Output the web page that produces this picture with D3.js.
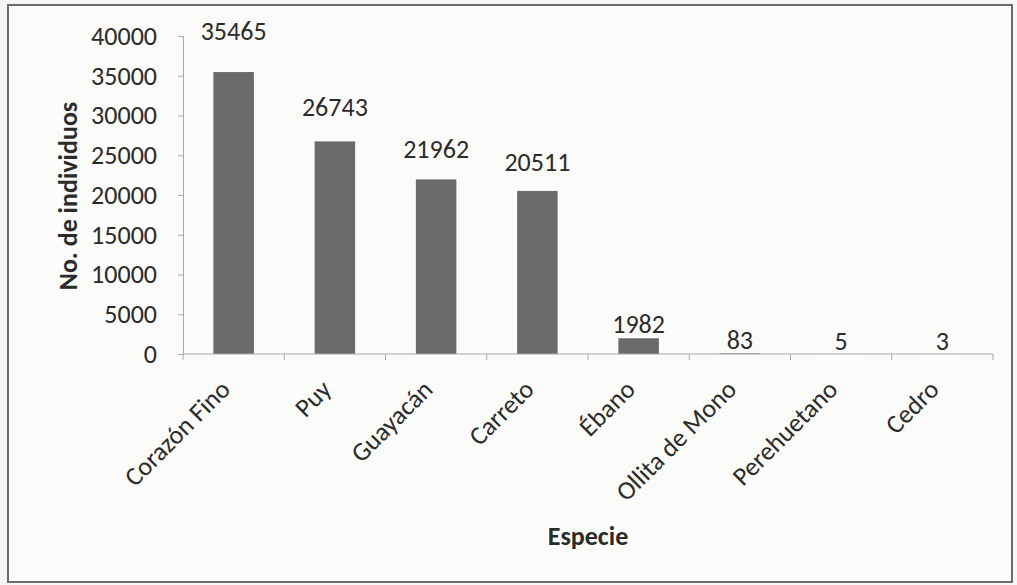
<!DOCTYPE html>
<html>
<head>
<meta charset="utf-8">
<script src="https://d3js.org/d3.v7.min.js"></script>
<style>
  body { margin: 0; background: #f6f6f4; }
  text { font-family: Carlito, Lato, "Open Sans", sans-serif; fill: #2b2b2b; }
</style>
</head>
<body>
<script>
// species counts
var especies = ["Corazón Fino", "Puy", "Guayacán", "Carreto", "Ébano", "Ollita de Mono", "Perehuetano", "Cedro"];
var individuos = [35465, 26743, 21962, 20511, 1982, 83, 5, 3];
var yTicks = [0, 5000, 10000, 15000, 20000, 25000, 30000, 35000, 40000];

var width = 1017, height = 585;
var plotLeft = 183, plotRight = 993, plotTop = 36, plotBottom = 354;
var fontSize = "26px";

var svg = d3.select("body").append("svg")
    .attr("width", width)
    .attr("height", height);

// chart frame
svg.append("rect")
    .attr("x", 8).attr("y", 5)
    .attr("width", 1004).attr("height", 577)
    .attr("fill", "#fbfbfa")
    .attr("stroke", "#6c6c6c")
    .attr("stroke-width", 2);

var x = d3.scaleBand().domain(especies).range([plotLeft, plotRight]).paddingInner(0.6).paddingOuter(0.3);
var xb = d3.scaleBand().domain(especies).range([plotLeft, plotRight]); // for tick boundaries
var y = d3.scaleLinear().domain([0, 40000]).range([plotBottom, plotTop]);
// the data labels sit a bit higher as the value grows (as in the original)
var yLabel = d3.scaleLinear().domain([0, 40000]).range([350, 0]);

// y axis
var yAxis = svg.append("g")
    .attr("transform", "translate(" + plotLeft + ",0)")
    .call(d3.axisLeft(y).tickValues(yTicks).tickSize(5).tickPadding(21).tickFormat(d3.format("d")));
yAxis.select(".domain").attr("stroke", "#a8a8a8");
yAxis.selectAll(".tick line").attr("stroke", "#a8a8a8");
yAxis.selectAll("text")
    .style("font-size", fontSize)
    .attr("fill", "#2b2b2b");

// bars
svg.selectAll("rect.bar")
    .data(individuos)
    .enter()
    .append("rect")
    .attr("class", "bar")
    .attr("x", (d, i) => x(especies[i]))
    .attr("y", d => y(d))
    .attr("width", x.bandwidth())
    .attr("height", d => plotBottom - y(d))
    .attr("fill", "#6a6a6a");

// x axis line + ticks at category boundaries
svg.append("line")
    .attr("x1", plotLeft).attr("x2", plotRight)
    .attr("y1", plotBottom).attr("y2", plotBottom)
    .attr("stroke", "#a8a8a8");
var bounds = especies.map(e => xb(e)).concat([plotRight]);
svg.selectAll("line.xtick")
    .data(bounds)
    .enter()
    .append("line")
    .attr("class", "xtick")
    .attr("x1", d => d).attr("x2", d => d)
    .attr("y1", plotBottom).attr("y2", plotBottom + 6)
    .attr("stroke", "#a8a8a8");

// value labels
svg.selectAll("text.val")
    .data(individuos)
    .enter()
    .append("text")
    .attr("class", "val")
    .attr("x", (d, i) => x(especies[i]) + x.bandwidth() / 2)
    .attr("y", d => yLabel(d))
    .attr("text-anchor", "middle")
    .style("font-size", fontSize)
    .text(d => d);

// category labels, rotated
svg.selectAll("text.cat")
    .data(especies)
    .enter()
    .append("text")
    .attr("class", "cat")
    .attr("transform", d => "translate(" + (xb(d) + xb.bandwidth() / 2 - 2) + ",391) rotate(-45)")
    .attr("text-anchor", "end")
    .style("font-size", fontSize)
    .text(d => d);

// axis titles
svg.append("text")
    .attr("transform", "translate(77,196) rotate(-90)")
    .attr("text-anchor", "middle")
    .style("font-size", fontSize)
    .style("font-weight", "bold")
    .text("No. de individuos");

svg.append("text")
    .attr("x", 588)
    .attr("y", 545)
    .attr("text-anchor", "middle")
    .style("font-size", fontSize)
    .style("font-weight", "bold")
    .text("Especie");
</script>
</body>
</html>
